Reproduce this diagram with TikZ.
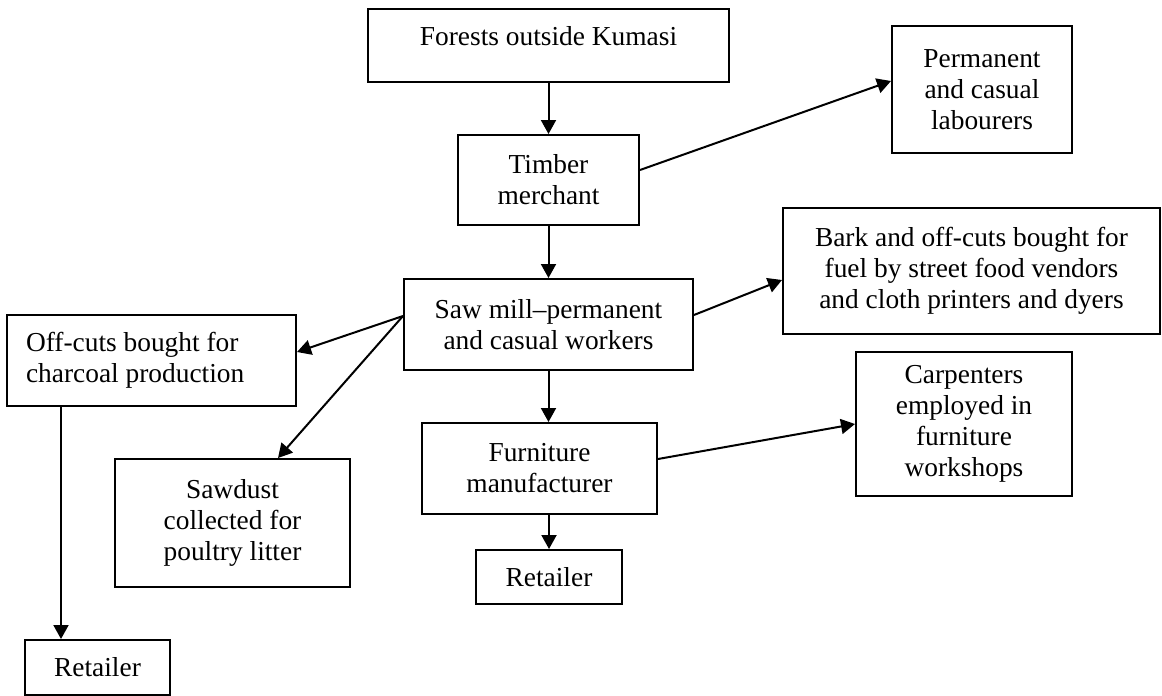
\documentclass[tikz,border=0pt]{standalone}
\usepackage{fontspec}
\setmainfont{Liberation Serif}
\usetikzlibrary{arrows.meta}
\begin{document}
\begin{tikzpicture}[x=0.5pt,y=-0.5pt,
  every node/.style={font=\fontsize{13.7pt}{15.5pt}\selectfont},
  box/.style={draw,line width=1pt,align=center,inner sep=0pt},
  arr/.style={line width=1pt,-{Triangle[length=7pt,width=7.5pt]}}]
\useasboundingbox (0,0) rectangle (1162,696);

% boxes
\node[draw,line width=1pt,inner xsep=0pt,inner ysep=0pt,minimum width=180.5pt,
      text height=18pt,text depth=18.5pt,anchor=north] (forests) at (548.5,8) {Forests outside Kumasi};
\node[box,minimum width=90.5pt,minimum height=45pt] (timber) at (548.5,180) {Timber\\merchant};
\node[box,minimum width=90pt,minimum height=63.5pt] (perm) at (982,89.5) {Permanent\\and casual\\labourers};
\node[box,minimum width=188.5pt,minimum height=63pt] (bark) at (971.5,271) {Bark and off-cuts bought for\\fuel by street food vendors\\and cloth printers and dyers};
\node[box,minimum width=144.5pt,minimum height=45.5pt] (saw) at (548.5,324.5) {Saw mill\textendash permanent\\and casual workers};
\node[draw,line width=1pt,align=flush left,text width=125.5pt,inner xsep=9.5pt,inner ysep=0pt,minimum height=45.5pt] (off) at (151.5,360.5) {Off-cuts bought for\\charcoal production};
\node[box,minimum width=117.5pt,minimum height=64pt] (dust) at (232.5,523) {Sawdust\\collected for\\poultry litter};
\node[box,minimum width=117.5pt,minimum height=45.5pt] (furn) at (539.5,468.5) {Furniture\\manufacturer};
\node[box,minimum width=73pt,minimum height=27pt] (retm) at (549,577) {Retailer};
\node[box,minimum width=108pt,minimum height=72pt] (carp) at (964,424) {Carpenters\\employed in\\furniture\\workshops};
\node[box,minimum width=72.5pt,minimum height=27.5pt] (retb) at (97.5,667.5) {Retailer};

% connectors
\draw[arr] (forests.south) -- (timber.north);
\draw[arr] (timber.south) -- (saw.north);
\draw[arr] ([yshift=5pt]timber.east) -- ([yshift=4.25pt]perm.west);
\draw[arr] ([yshift=4.75pt]saw.east) -- ([yshift=-4.5pt]bark.west);
\draw[arr] ([yshift=4.25pt]saw.west) -- ([yshift=4.25pt]off.east);
\draw[arr] ([yshift=4.25pt]saw.west) -- ([xshift=22.75pt]dust.north);
\draw[arr] (saw.south) -- (saw.south |- furn.north);
\draw[arr] (retm.north |- furn.south) -- (retm.north);
\draw[arr] ([yshift=4.75pt]furn.east) -- (carp.west);
\draw[arr] ([xshift=-45.25pt]off.south) -- ([xshift=-45.25pt]off.south |- retb.north);
\end{tikzpicture}
\end{document}
